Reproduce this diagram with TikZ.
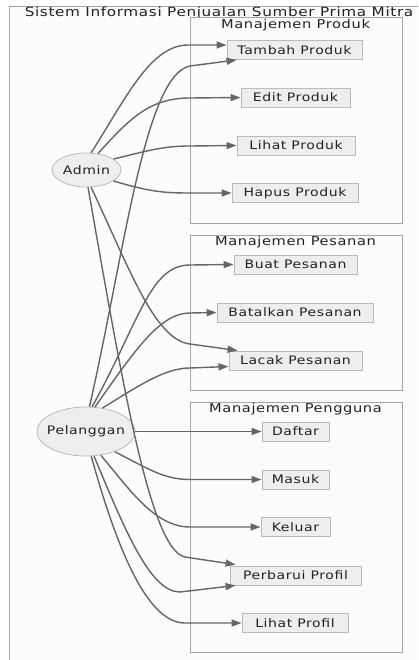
\documentclass[tikz,border=0pt]{standalone}
\usepackage{fontspec}
\setmainfont{DejaVu Sans}[FakeStretch=1.2,LetterSpace=5]
\usetikzlibrary{arrows.meta,shapes.geometric}
\definecolor{edgec}{HTML}{666666}
\definecolor{nodefill}{HTML}{EEEEEE}
\definecolor{nodeborder}{HTML}{BBBBBB}
\definecolor{groupborder}{HTML}{A6A6A6}
\definecolor{bgc}{HTML}{FCFCFC}
\definecolor{textc}{HTML}{222222}
\tikzset{
  uc/.style={draw=nodeborder, fill=nodefill, line width=0.9pt, minimum height=19pt, inner sep=0pt, text=textc, font=\fontsize{11.7}{13}\selectfont},
  actor/.style={ellipse, draw=nodeborder, fill=nodefill, line width=0.8pt, inner sep=0pt},
  actorlabel/.style={inner sep=0pt, text=textc, font=\fontsize{11.7}{13}\selectfont},
  group/.style={draw=groupborder, fill=bgc, line width=1pt},
  grouptitle/.style={text=textc, font=\fontsize{12.2}{13}\selectfont, inner sep=0pt},
  conn/.style={draw=edgec, line width=1.4pt, -{Triangle[length=10pt,width=7pt]}}
}
\begin{document}
\begin{tikzpicture}[x=1pt,y=-1pt]
\useasboundingbox (0,0) rectangle (418,660);
\clip (0,0) rectangle (418,660);
\fill[white] (0,0) rectangle (418,660);
% outer system box
\draw[group, line width=1.2pt] (9.5,6.5) rectangle (440,680);
\node[grouptitle, font=\fontsize{12.7}{13}\selectfont] (systitle) at (219,13) {Sistem Informasi Penjualan Sumber Prima Mitra};
% groups
\draw[group] (190,18) rectangle (402,223);
\node[grouptitle] (gprod) at (295.5,25) {Manajemen Produk};
\draw[group] (190,235) rectangle (402,390);
\node[grouptitle] (gpes) at (295.5,242) {Manajemen Pesanan};
\draw[group] (190,402) rectangle (402,652);
\node[grouptitle] (gpeng) at (295.5,409) {Manajemen Pengguna};
% use cases
\node[uc, minimum width=135pt] (tambah) at (294.5,50) {Tambah Produk};
\node[uc, minimum width=109pt] (edit) at (295.5,97.5) {Edit Produk};
\node[uc, minimum width=118pt] (lihat) at (296,145.5) {Lihat Produk};
\node[uc, minimum width=126pt] (hapus) at (295,193) {Hapus Produk};
\node[uc, minimum width=123pt] (buat) at (295.5,264.5) {Buat Pesanan};
\node[uc, minimum width=156pt] (batal) at (295,312.5) {Batalkan Pesanan};
\node[uc, minimum width=133pt] (lacak) at (295.5,360.5) {Lacak Pesanan};
\node[uc, minimum width=67pt] (daftar) at (295.5,431.5) {Daftar};
\node[uc, minimum width=67pt] (masuk) at (295.5,479.5) {Masuk};
\node[uc, minimum width=69pt] (keluar) at (295.5,527) {Keluar};
\node[uc, minimum width=131pt] (perb) at (295.5,575.5) {Perbarui Profil};
\node[uc, minimum width=106pt] (lprof) at (295,623) {Lihat Profil};
% actors
\node[actor, minimum width=69pt, minimum height=34pt] (admin) at (86.5,170) {};
\node[actorlabel] (adminlabel) at (admin.center) {Admin};
\node[actor, minimum width=98pt, minimum height=49pt] (pel) at (86,431.5) {};
\node[actorlabel] (pellabel) at (pel.center) {Pelanggan};
% admin edges
\draw[conn] (admin.75) .. controls (125,100) and (150,45) .. (188,45) -- ([yshift=5]tambah.west);
\draw[conn] (admin.55) .. controls (130,118) and (150,98) .. (190,98) -- (edit.west);
\draw[conn] (admin.22) .. controls (150,150) and (165,146) .. (190,146) -- (lihat.west);
\draw[conn] (admin.-22) .. controls (150,192) and (165,193) .. (190,193) -- (hapus.west);
\draw[conn] (admin.-75) .. controls (130,270) and (155,340) .. (190,344) -- ([xshift=9]lacak.north west);
\draw[conn] (admin.-85) .. controls (122,380) and (150,550) .. (185,557) -- ([xshift=6,yshift=1]perb.north west);
% pelanggan edges
\draw[conn] (pel.82) .. controls (125,250) and (145,75) .. (190,66) -- ([xshift=10]tambah.south west);
\draw[conn] (pel.76) .. controls (140,320) and (150,265) .. (190,265) -- (buat.west);
\draw[conn] (pel.70) .. controls (135,350) and (160,313) .. (190,313) -- (batal.west);
\draw[conn] (pel.55) .. controls (140,385) and (165,368) .. (190,368) -- ([yshift=-6]lacak.west);
\draw[conn] (pel.east) -- (daftar.west);
\draw[conn] (pel.-35) .. controls (150,470) and (165,479.5) .. (190,479.5) -- (masuk.west);
\draw[conn] (pel.-58) .. controls (130,490) and (155,527) .. (190,527) -- (keluar.west);
\draw[conn] (pel.-72) .. controls (125,530) and (150,592) .. (180,592) -- ([xshift=6]perb.south west);
\draw[conn] (pel.-78) .. controls (120,560) and (150,623) .. (185,623) -- (lprof.west);
\end{tikzpicture}
\end{document}
